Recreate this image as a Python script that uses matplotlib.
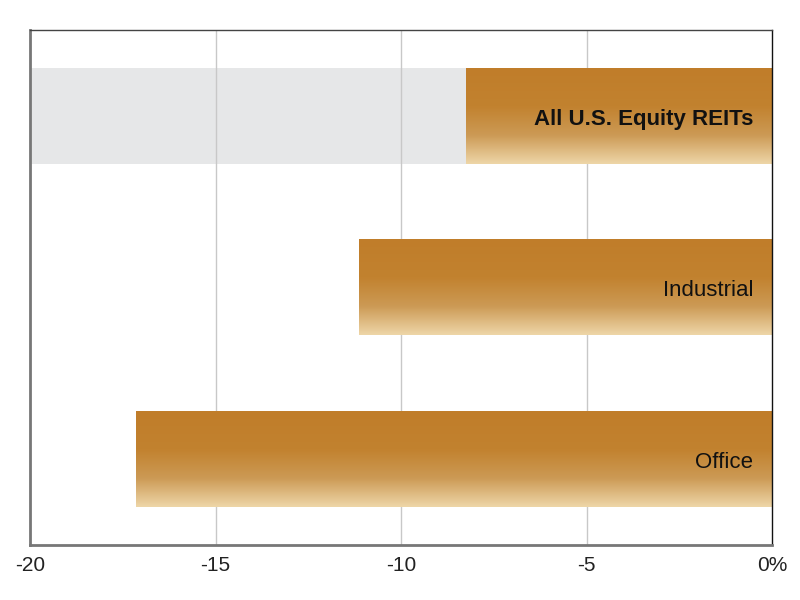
import matplotlib
matplotlib.use("Agg")
import matplotlib.pyplot as plt
import numpy as np
from matplotlib.colors import LinearSegmentedColormap
from matplotlib import font_manager

categories = ["All U.S. Equity REITs", "Industrial", "Office"]
values = [-8.25, -11.13, -17.15]
highlight = [True, False, False]
xticks = [-20, -15, -10, -5, 0]
xticklabels = ["-20", "-15", "-10", "-5", "0%"]

names = {f.name for f in font_manager.fontManager.ttflist}
fam = ["Liberation Sans Narrow", "DejaVu Sans"] if "Liberation Sans Narrow" in names else ["Liberation Sans", "DejaVu Sans"]
plt.rcParams["font.family"] = fam

fig = plt.figure(figsize=(8, 6), dpi=100)
ax = fig.add_axes([30/800, 55/600, 742/800, 515/600])

y = np.arange(len(categories))
h = 0.558
xmin, xmax = -20, 0

# highlight band
for yi, hl in zip(y, highlight):
    if hl:
        ax.barh(yi, xmax - xmin, left=xmin, height=h, color="#E6E7E8", zorder=0, linewidth=0)

for xv in xticks[1:-1]:
    ax.axvline(xv, color="#C8C8C8", lw=1, zorder=0.5)

cmap = LinearSegmentedColormap.from_list(
    "g", [(0, "#C07D2A"), (0.4, "#C2822F"), (0.7, "#CC9A55"), (1.0, "#EED6A8")])
grad = np.linspace(0, 1, 256).reshape(-1, 1)
bars = ax.barh(y, values, height=h, color="none", linewidth=0, zorder=2)
for yi, v in zip(y, values):
    ax.imshow(grad, cmap=cmap, aspect="auto", origin="upper",
              extent=(v, 0, yi + h/2, yi - h/2), zorder=2, interpolation="bilinear")

for i, (yi, c) in enumerate(zip(y, categories)):
    ax.text(-0.5, yi + 0.02, c, ha="right", va="center", fontsize=16,
            fontweight="bold" if i == 0 else "normal", color="#111111", zorder=3)

ax.set_xlim(xmin, xmax)
ax.set_ylim(len(categories) - 0.5, -0.5)
ax.set_xticks(xticks)
ax.set_xticklabels(xticklabels, fontsize=15, color="#222222")
ax.set_yticks([])
ax.tick_params(axis="x", length=0, pad=8)

ax.spines["left"].set_color("#777777")
ax.spines["left"].set_linewidth(2)
ax.spines["bottom"].set_color("#777777")
ax.spines["bottom"].set_linewidth(2)
ax.spines["top"].set_color("#444444")
ax.spines["top"].set_linewidth(1)
ax.spines["right"].set_color("#111111")
ax.spines["right"].set_linewidth(1)

fig.savefig("out.png", dpi=100)
